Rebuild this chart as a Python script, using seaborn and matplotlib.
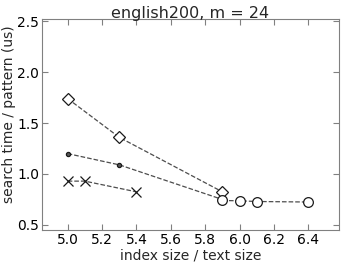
import matplotlib
matplotlib.use("Agg")
import matplotlib.pyplot as plt
import seaborn as sns
import pandas as pd

# --- DATOS ---
diamond_x = [5.0, 5.3, 5.9]
diamond_y = [1.74, 1.36, 0.825]
dot_x = [5.0, 5.3, 5.9]
dot_y = [1.20, 1.09, 0.75]
cross_x = [5.0, 5.1, 5.4]
cross_y = [0.93, 0.93, 0.825]
circle_x = [5.9, 6.0, 6.1, 6.4]
circle_y = [0.74, 0.737, 0.73, 0.725]

xticks = [5.0, 5.2, 5.4, 5.6, 5.8, 6.0, 6.2, 6.4]
yticks = [0.5, 1.0, 1.5, 2.0, 2.5]

sns.set_style("ticks")
plt.rcParams['font.family'] = ['DejaVu Sans']
plt.rcParams['xtick.direction'] = 'in'
plt.rcParams['ytick.direction'] = 'in'

fig, ax = plt.subplots(figsize=(3.49, 2.62), dpi=100)

series = [
    (diamond_x, diamond_y, 'D', 6, 'white'),
    (dot_x, dot_y, 'o', 3, '0.35'),
    (cross_x, cross_y, 'x', 7, 'none'),
    (circle_x, circle_y, 'o', 7, 'white'),
]
for xs, ys, mk, ms, fc in series:
    df = pd.DataFrame({'x': xs, 'y': ys})
    sns.lineplot(data=df, x='x', y='y', ax=ax, color='0.3', linestyle='--',
                 linewidth=0.9, marker=mk, markersize=ms, markerfacecolor=fc,
                 markeredgecolor='0.1', markeredgewidth=0.9, zorder=3)

ax.set_xlim(4.85, 6.58)
ax.set_ylim(0.45, 2.52)
ax.set_xticks(xticks)
ax.set_yticks(yticks)
ax.tick_params(labelsize=10, top=True, right=True, length=4, color='0.5',
               pad=2, labelcolor='black')
for s in ax.spines.values():
    s.set_color('0.5')
ax.set_title('english200, m = 24', fontsize=11.5, pad=1)
ax.set_xlabel('index size / text size', fontsize=10, labelpad=1)
ax.set_ylabel('search time / pattern (us)', fontsize=10)
ax.yaxis.set_label_coords(-0.087, 0.55)

plt.subplots_adjust(left=0.12, right=0.972, top=0.927, bottom=0.122)
plt.savefig('out.png', dpi=100)
